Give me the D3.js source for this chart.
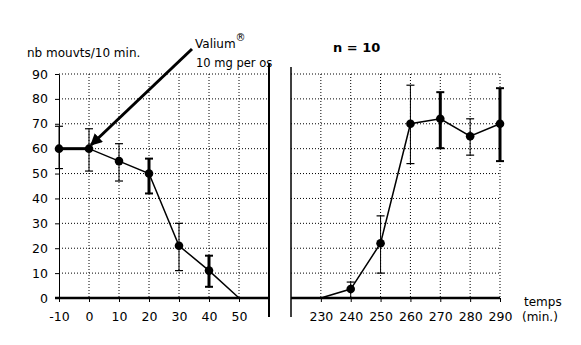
<!DOCTYPE html>
<html><head><meta charset="utf-8">
<script src="https://cdn.jsdelivr.net/npm/d3@7"></script>
<style>
body{margin:0;background:#fff;}
svg{display:block;}
text{font-family:"DejaVu Sans",sans-serif;font-size:12px;fill:#000;}
</style></head><body>
<svg id="c" width="581" height="345"></svg>
<script>
// ---- data ----
const timesA = [-10, 0, 10, 20, 30, 40, 50];
const meanA  = [60, 60, 55, 50, 21, 11, 0];
const hiA    = [69, 68, 62, 56, 30, 17, null];
const loA    = [52, 51, 47, 42, 11, 4.5, null];
const timesB = [230, 240, 250, 260, 270, 280, 290];
const meanB  = [0, 3.6, 22, 70, 72, 65, 70];
const hiB    = [null, 6.4, 33, 85.5, 82.7, 72, 84.3];
const loB    = [null, 0, 10, 54, 60.2, 57.4, 55];
const thickA = [20, 40];
const thickB = [270, 290];
const yTicks = [0, 10, 20, 30, 40, 50, 60, 70, 80, 90];
const xTicksA = [-10, 0, 10, 20, 30, 40, 50];
const xTicksB = [230, 240, 250, 260, 270, 280, 290];

const svg = d3.select("#c");
const y = d3.scaleLinear().domain([0, 90]).range([298, 74]);
const xA = d3.scaleLinear().domain([-10, 60]).range([59, 269]);
const xB = d3.scaleLinear().domain([220, 290]).range([291, 500]);

// grids
function grid(x, xs, x0, x1) {
  const g = svg.append("g");
  g.selectAll(".h").data(yTicks.slice(1)).join("line")
    .attr("x1", x(x0)).attr("x2", x(x1))
    .attr("y1", d => y(d)).attr("y2", d => y(d))
    .attr("stroke", "#000").attr("stroke-width", 1).attr("stroke-dasharray", "1,2");
  g.selectAll(".v").data(xs).join("line")
    .attr("x1", d => x(d)).attr("x2", d => x(d))
    .attr("y1", y(90)).attr("y2", y(0))
    .attr("stroke", "#000").attr("stroke-width", 1).attr("stroke-dasharray", "1,2");
}
grid(xA, [0, 10, 20, 30, 40, 50], -10, 60);
grid(xB, [230, 240, 250, 260, 270, 280, 290], 220, 290);

// y axis
const ya = svg.append("g").attr("transform", `translate(${xA(-10)},0)`)
  .call(d3.axisLeft(y).tickValues(yTicks).tickFormat(d => String(d)).tickSize(4).tickPadding(7).tickSizeOuter(0));
ya.select(".domain").attr("stroke-width", 1);
ya.selectAll("text").style("font-size", "12.5px").style("font-family", "DejaVu Sans, sans-serif");

// x axes
function xaxis(x, ticks, x0, x1) {
  const g = svg.append("g").attr("transform", `translate(0,${y(0)})`)
    .call(d3.axisBottom(x).tickValues(ticks).tickFormat(d => String(d)).tickSize(4).tickPadding(10).tickSizeOuter(0));
  g.select(".domain").remove();
  g.selectAll("text").style("font-size", "12.5px").style("font-family", "DejaVu Sans, sans-serif");
  g.append("line").attr("x1", x0).attr("x2", x1).attr("y1", 0).attr("y2", 0)
    .attr("stroke", "#000").attr("stroke-width", 2.5);
}
xaxis(xA, xTicksA, 55, xA(60));
xaxis(xB, xTicksB, xB(220), xB(290));

// panel borders
svg.append("line").attr("x1", xA(60)).attr("x2", xA(60)).attr("y1", 63).attr("y2", 317)
  .attr("stroke", "#000").attr("stroke-width", 2);
svg.append("line").attr("x1", xB(220)).attr("x2", xB(220)).attr("y1", 67).attr("y2", 317)
  .attr("stroke", "#000").attr("stroke-width", 1.5);

// series
function series(x, ts, m, hi, lo, thick) {
  const line = d3.line().x((d, i) => x(ts[i])).y(d => y(d));
  svg.append("path").datum(m).attr("d", line).attr("fill", "none")
    .attr("stroke", "#000").attr("stroke-width", 1.5);
  ts.forEach((t, i) => {
    if (hi[i] == null) return;
    const w = thick.includes(t) ? 3 : 1;
    const cx = x(t);
    svg.append("line").attr("x1", cx).attr("x2", cx).attr("y1", y(hi[i])).attr("y2", y(lo[i]))
      .attr("stroke", "#000").attr("stroke-width", w);
    [hi[i], lo[i]].forEach(v => {
      svg.append("line").attr("x1", cx - 4).attr("x2", cx + 4).attr("y1", y(v)).attr("y2", y(v))
        .attr("stroke", "#000").attr("stroke-width", thick.includes(t) ? 2 : 1.2);
    });
    svg.append("circle").attr("cx", cx).attr("cy", y(m[i])).attr("r", 4.3).attr("fill", "#000");
  });
}
series(xA, timesA, meanA, hiA, loA, thickA);
// thicker first segment
svg.append("line").attr("x1", xA(timesA[0])).attr("x2", xA(timesA[1]))
  .attr("y1", y(meanA[0])).attr("y2", y(meanA[1])).attr("stroke", "#000").attr("stroke-width", 3);
series(xB, timesB, meanB, hiB, loB, thickB);

// arrow
svg.append("defs").append("marker").attr("id", "ah").attr("viewBox", "0 0 10 10")
  .attr("refX", 9).attr("refY", 5).attr("markerWidth", 4).attr("markerHeight", 4)
  .attr("orient", "auto").append("path").attr("d", "M0,0L10,5L0,10z").attr("fill", "#000");
svg.append("line").attr("x1", 192).attr("y1", 49).attr("x2", 91).attr("y2", 145)
  .attr("stroke", "#000").attr("stroke-width", 3).attr("marker-end", "url(#ah)");

// texts
svg.append("text").attr("x", 27).attr("y", 57).text("nb mouvts/10 min.");
const v = svg.append("text").attr("x", 195).attr("y", 48);
v.append("tspan").text("Valium");
v.append("tspan").attr("dy", -7).style("font-size", "10px").text("®");
svg.append("text").attr("x", 196).attr("y", 67).style("font-size", "11.5px").text("10 mg per os");
svg.append("text").attr("x", 333).attr("y", 52).style("font-weight", "bold").style("font-size", "13px")
  .attr("xml:space", "preserve").text("n = 10");
svg.append("text").attr("x", 524).attr("y", 306).text("temps");
svg.append("text").attr("x", 522).attr("y", 321).text("(min.)");
</script></body></html>
